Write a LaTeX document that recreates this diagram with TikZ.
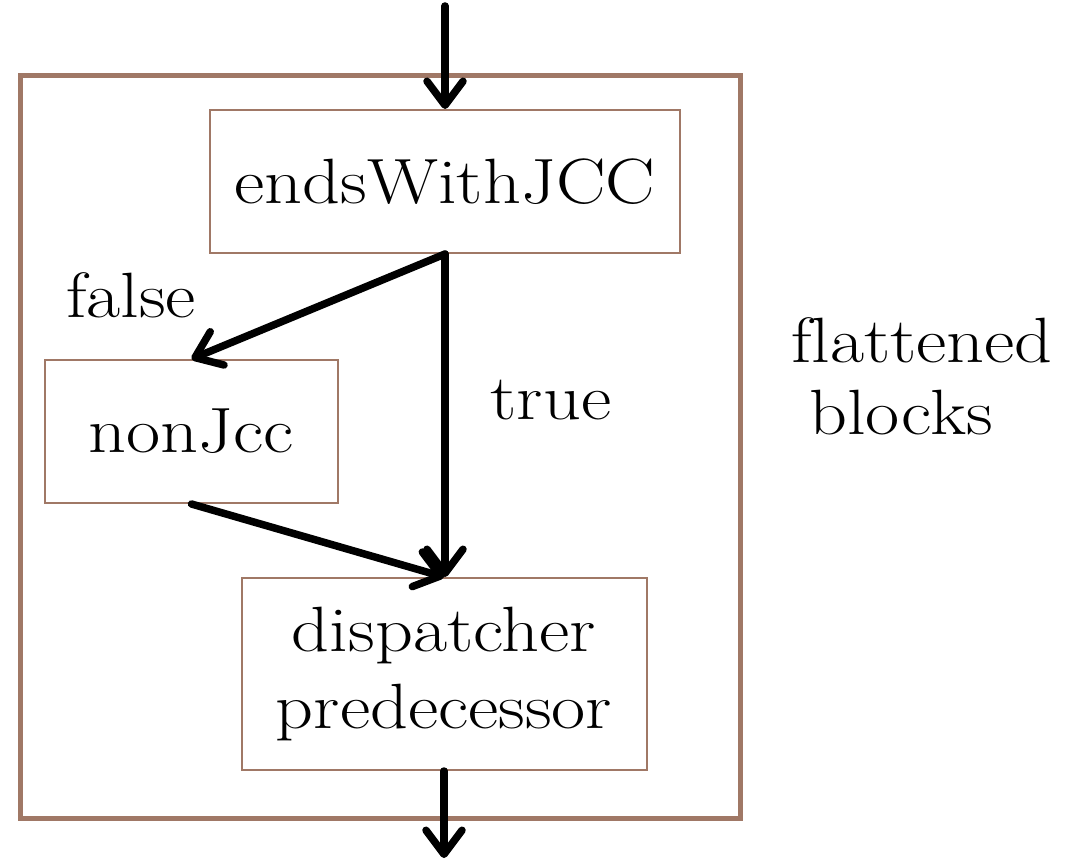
\documentclass[tikz,border=0pt]{standalone}
\usepackage{fontspec}
\setmainfont{Latin Modern Roman}[FakeStretch=1.16, Ligatures=CommonOff]
\usetikzlibrary{arrows.meta}
\definecolor{boxbrown}{RGB}{160,120,102}
\begin{document}
\begin{tikzpicture}[x=1pt,y=-1pt,
  blockbox/.style={draw=boxbrown, line width=2pt, inner sep=0pt, align=center},
  flow/.style={line width=7.5pt, line cap=round, line join=round,
    -{Straight Barb[length=24pt,width=36pt,line cap=round,line join=round]}},
  bigtext/.style={font=\fontsize{64}{77}\selectfont},
  lbl/.style={bigtext, inner sep=0pt, anchor=base}]
\useasboundingbox (0,0) rectangle (1066,864);
\node[draw=boxbrown, line width=5pt, minimum width=720pt, minimum height=742pt, inner sep=0pt] (outer) at (380,447) {};
\node[blockbox, bigtext, minimum width=470pt, minimum height=143pt] (ends) at (445,181.5) {endsWithJCC};
\node[blockbox, bigtext, minimum width=293pt, minimum height=143pt] (non) at (191.5,431.5) {nonJcc};
\node[blockbox, bigtext, minimum width=405pt, minimum height=192pt] (disp) at (444,674) {dispatcher\\predecessor};
\coordinate (topin) at (445,6);
\coordinate (botout) at (444,858);
\draw[flow] (topin) -- (ends.north);
\draw[flow] (ends.south) -- (non.north);
\draw[flow] (ends.south) -- (ends.south |- disp.north);
\draw[flow] (non.south) -- (disp.north);
\draw[flow] (disp.south) -- (botout);
\node[lbl] (false) at (131,317) {false};
\node[lbl] (true) at (551,419) {true};
\node[lbl] (flat) at (922,362) {flattened};
\node[lbl] (blocks) at (901,434) {blocks};
\end{tikzpicture}
\end{document}
